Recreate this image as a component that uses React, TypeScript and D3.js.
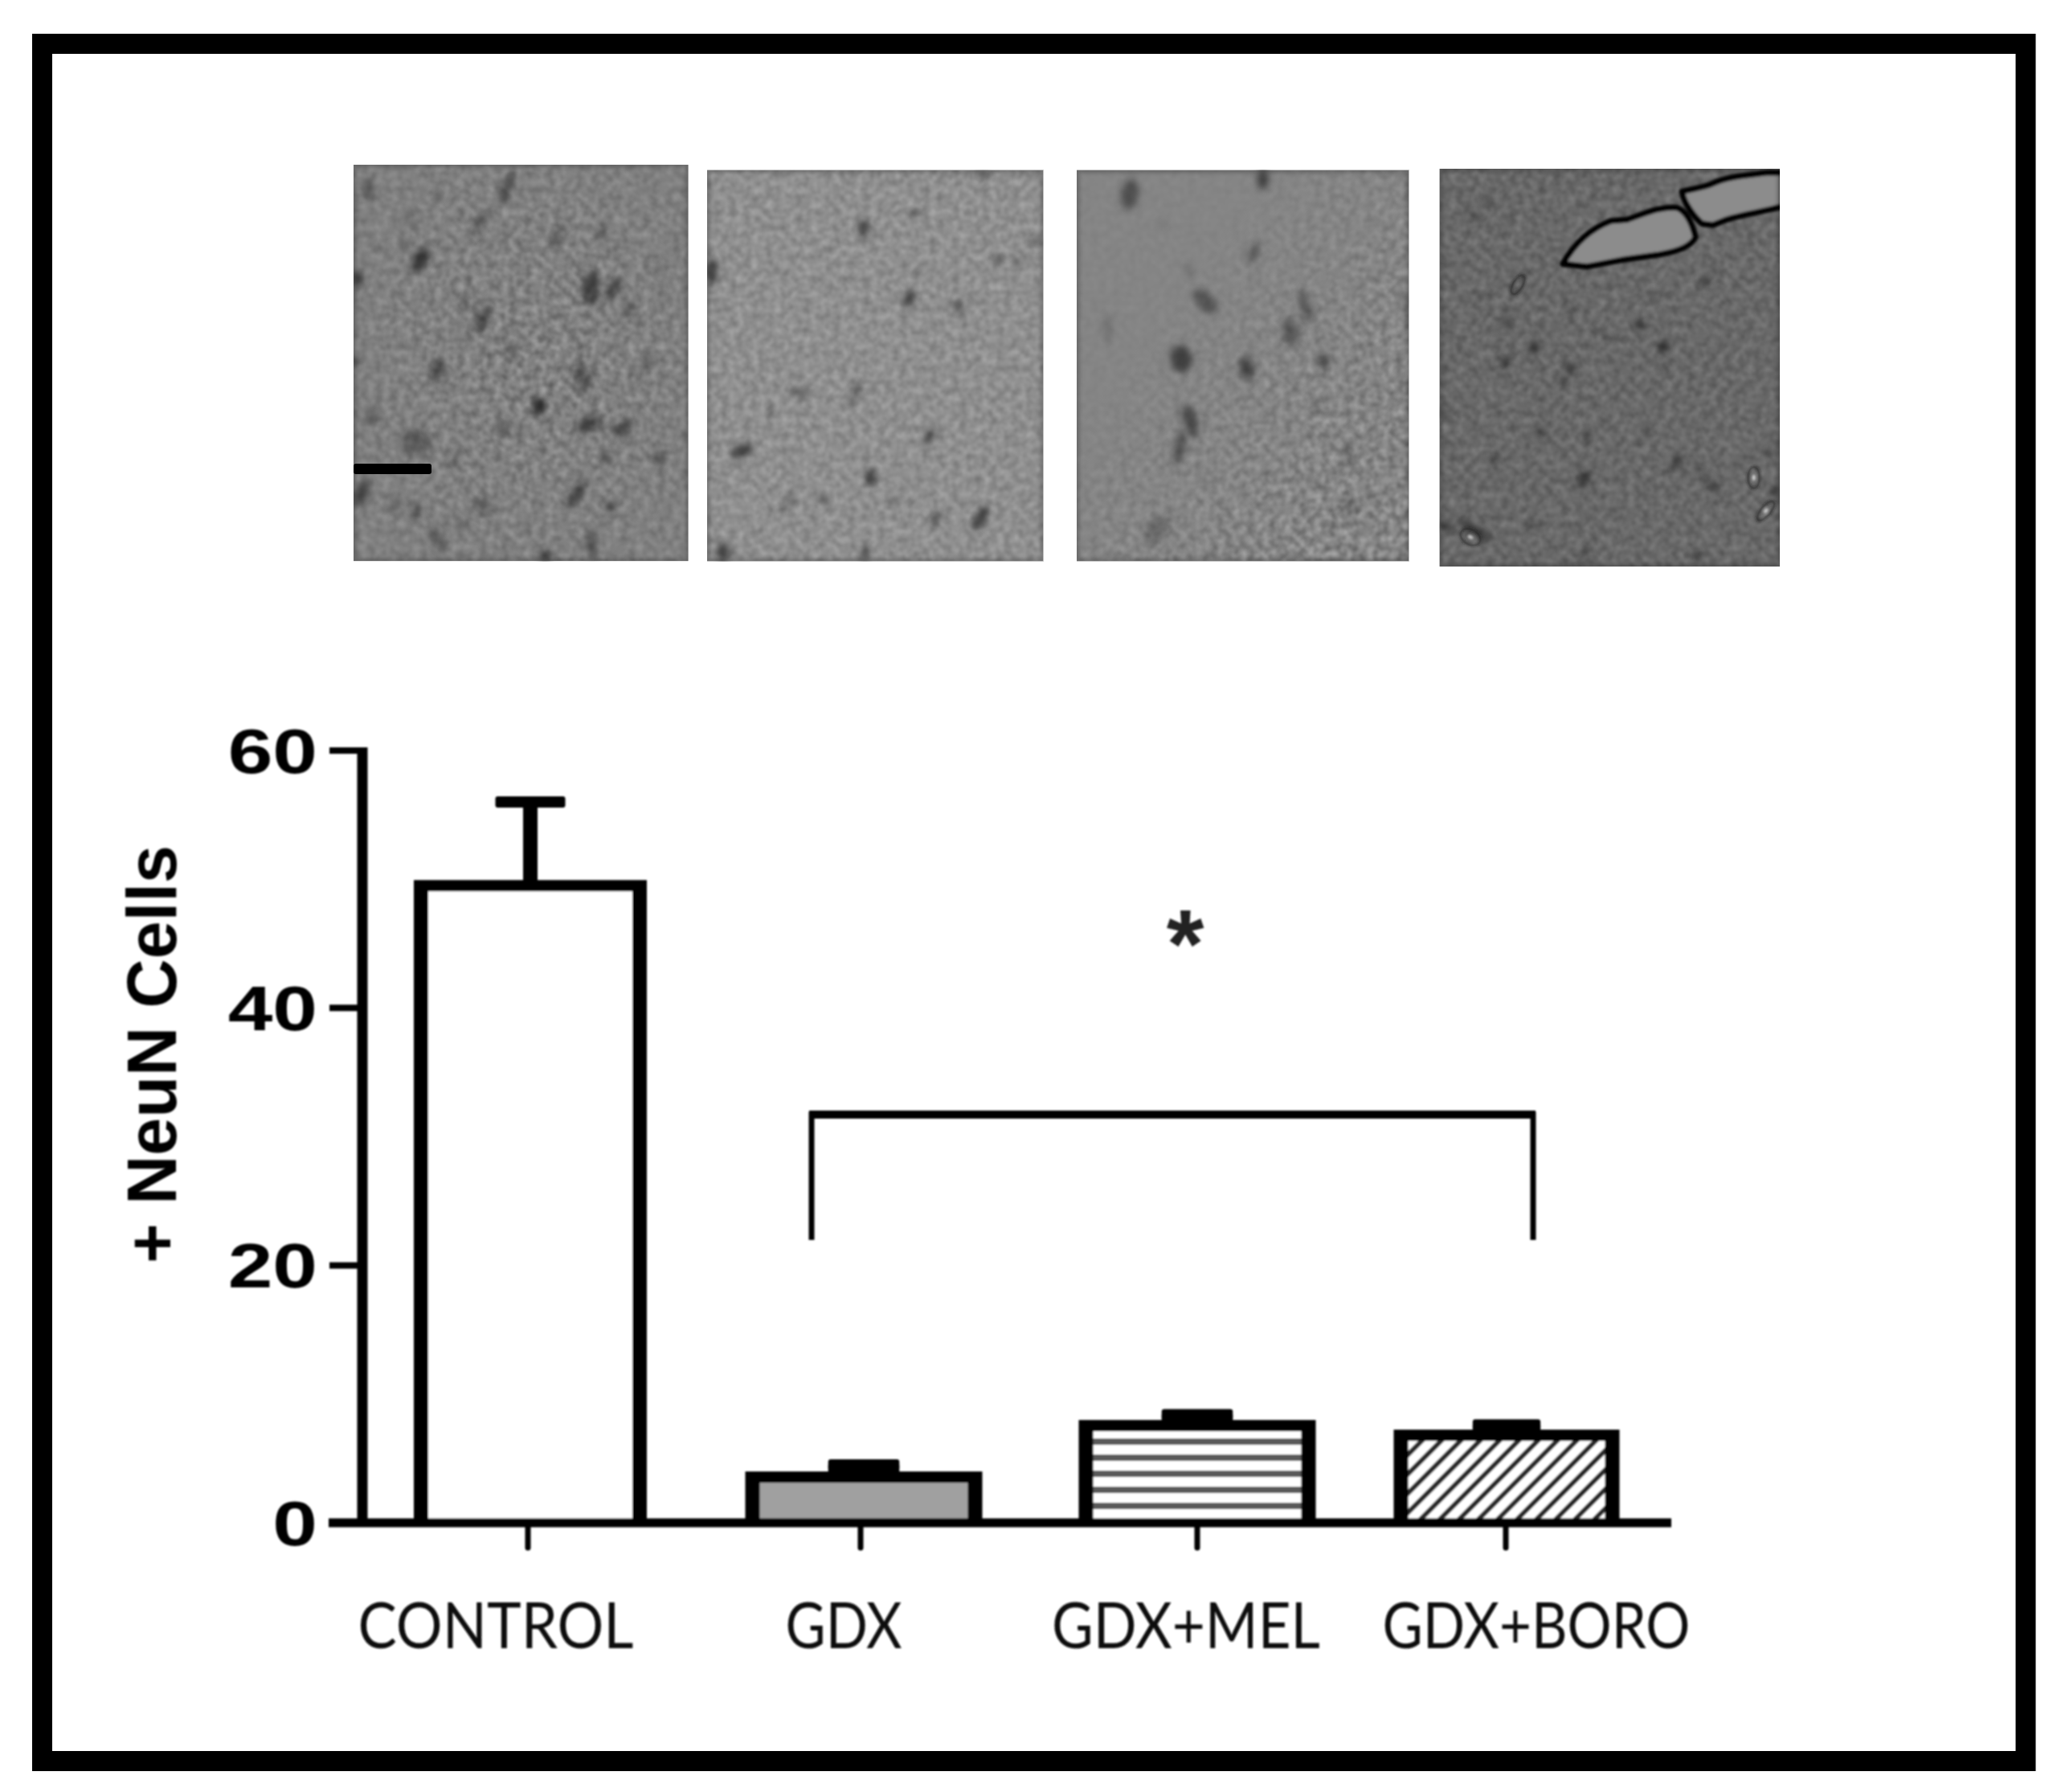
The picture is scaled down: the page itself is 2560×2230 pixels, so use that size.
import React, { useEffect, useRef } from 'react';
import * as d3 from 'd3';

// values
const categories = ['CONTROL', 'GDX', 'GDX+MEL', 'GDX+BORO'];
const means = [49.5, 3.55, 7.55, 6.8];
const upperErrors = [56, 4.5, 8.4, 7.6];
const yTicks = [0, 20, 40, 60];

// dark cell bodies in the micrographs: cx, cy, rx, ry, rotation, opacity (3x crop coords)
const cellsControl = [
  [280, 385, 22, 50, 25, 0.75], [600, 120, 14, 60, 20, 0.6], [500, 250, 14, 55, 25, 0.4], [790, 300, 12, 38, 15, 0.5],
  [45, 455, 15, 30, 0, 0.8], [230, 335, 14, 14, 0, 0.4], [345, 148, 10, 14, 0, 0.6], [105, 335, 10, 10, 0, 0.35],
  [85, 120, 18, 40, 0, 0.4], [240, 230, 16, 35, 0, 0.25], [915, 490, 30, 60, 5, 0.6], [1000, 495, 22, 45, 20, 0.5],
  [1180, 415, 14, 28, 15, 0.3], [960, 285, 14, 40, 20, 0.35], [510, 610, 18, 50, 25, 0.6], [345, 795, 20, 45, 25, 0.55],
  [620, 725, 8, 25, -30, 0.8], [720, 930, 22, 32, 0, 0.85], [905, 1000, 45, 25, -20, 0.6], [1035, 1015, 40, 25, -30, 0.55],
  [885, 825, 30, 55, -10, 0.4], [1125, 770, 25, 40, 0, 0.2], [100, 970, 30, 32, 0, 0.28], [260, 1065, 55, 45, 0, 0.35],
  [590, 1015, 25, 22, 0, 0.45], [410, 1130, 12, 30, 20, 0.4], [60, 1255, 22, 50, 25, 0.6], [185, 1300, 22, 30, 0, 0.25],
  [265, 1325, 14, 30, 15, 0.55], [515, 1305, 38, 35, 0, 0.25], [860, 1265, 18, 55, 35, 0.6], [990, 1305, 18, 18, 0, 0.6],
  [975, 1125, 13, 16, 0, 0.65], [1175, 1125, 22, 35, 25, 0.35], [345, 1430, 16, 50, -30, 0.45], [745, 1490, 20, 16, 0, 0.85],
  [920, 1450, 16, 50, 0, 0.5], [430, 1370, 14, 25, 0, 0.25], [35, 760, 8, 18, 0, 0.8], [1060, 570, 16, 35, 20, 0.4],
  [440, 540, 14, 25, -30, 0.4],
];
const cellsGdx = [
  [615, 268, 16, 35, 0, 0.7], [808, 210, 13, 15, 0, 0.6], [50, 428, 17, 45, 0, 0.75], [785, 530, 18, 30, 0, 0.7],
  [968, 560, 18, 20, 0, 0.6], [1118, 388, 14, 20, 0, 0.5], [1190, 395, 14, 22, 0, 0.3], [810, 445, 8, 28, 20, 0.3],
  [585, 880, 14, 50, 15, 0.35], [380, 880, 35, 18, 20, 0.35], [160, 1100, 38, 22, -20, 0.7], [860, 1045, 14, 30, 20, 0.7],
  [642, 1198, 17, 32, 0, 0.75], [885, 1350, 13, 32, 15, 0.55], [1050, 1350, 18, 48, 30, 0.75], [465, 1278, 14, 18, 0, 0.5],
  [730, 1282, 14, 14, 0, 0.45], [340, 1275, 10, 30, -25, 0.4], [310, 1315, 12, 14, 0, 0.4], [90, 1475, 22, 32, 0, 0.7],
  [620, 1480, 14, 28, 0, 0.6], [1255, 320, 22, 15, 0, 0.35], [1060, 70, 22, 12, 0, 0.55], [270, 955, 10, 20, 20, 0.35],
];
const cellsMel = [
  [228, 140, 30, 55, 10, 0.5], [725, 85, 20, 35, 0, 0.65], [690, 360, 16, 35, 20, 0.45], [350, 255, 12, 14, 0, 0.2],
  [450, 425, 12, 30, -20, 0.2], [510, 540, 28, 55, -45, 0.45], [145, 640, 20, 55, 0, 0.14], [420, 755, 36, 48, -10, 0.65],
  [665, 790, 26, 42, -10, 0.6], [830, 655, 30, 50, -15, 0.4], [885, 560, 18, 65, -20, 0.4], [950, 760, 22, 28, 0, 0.5],
  [455, 985, 24, 60, -20, 0.55], [415, 1085, 18, 65, 10, 0.5], [330, 1395, 35, 55, 35, 0.25], [1050, 1110, 22, 55, 0, 0.2],
  [925, 920, 14, 12, 0, 0.45], [1050, 1300, 30, 40, -25, 0.2], [1250, 540, 10, 14, 0, 0.4],
];
const cellsBoro = [
  [150, 222, 18, 18, 0, 0.4], [205, 172, 18, 16, 0, 0.3], [268, 222, 13, 14, 0, 0.25], [315, 470, 14, 50, 30, 0.3],
  [170, 520, 13, 13, 0, 0.4], [268, 620, 18, 22, 0, 0.45], [372, 712, 17, 18, 0, 0.85], [265, 765, 18, 20, 0, 0.65],
  [507, 788, 16, 18, 0, 0.7], [482, 840, 15, 17, 0, 0.45], [770, 630, 17, 18, 0, 0.7], [855, 708, 16, 20, 0, 0.85],
  [850, 778, 16, 14, 0, 0.4], [1015, 468, 17, 18, 0, 0.55], [640, 660, 8, 30, -25, 0.4], [508, 578, 12, 16, 0, 0.3],
  [395, 1025, 18, 20, 0, 0.5], [572, 1040, 16, 16, 0, 0.45], [222, 1135, 14, 25, 0, 0.45], [558, 1205, 20, 28, 15, 0.7],
  [905, 1145, 12, 38, 40, 0.6], [1010, 1190, 8, 65, -45, 0.4], [1048, 1235, 14, 20, -20, 0.5], [368, 1375, 16, 16, 0, 0.45],
  [150, 1395, 16, 70, -60, 0.55], [45, 1380, 14, 20, 0, 0.75], [563, 1475, 14, 16, 0, 0.6], [975, 1490, 16, 18, 0, 0.45],
  [1255, 1105, 16, 14, 0, 0.6], [1270, 1250, 12, 22, 0, 0.7], [790, 1020, 25, 14, 0, 0.25], [810, 515, 10, 25, 30, 0.25],
  [40, 960, 10, 20, 0, 0.55],
];
// crop origin, panel box in crop coords, base grey, noise strength, noise mask
const panels = [
  { id: 'a', ox: 430, oy: 195, x0: 30, y0: 30, x1: 1280, y1: 1510, grey: 0.5, k: 0.42, seed: 3, mask: 'radialMask', cells: cellsControl },
  { id: 'b', ox: 870, oy: 195, x0: 30, y0: 50, x1: 1285, y1: 1510, grey: 0.56, k: 0.26, seed: 8, mask: 'fullMask', cells: cellsGdx },
  { id: 'c', ox: 1330, oy: 195, x0: 30, y0: 50, x1: 1270, y1: 1510, grey: 0.52, k: 0.42, seed: 14, mask: 'cornerMask', cells: cellsMel },
  { id: 'd', ox: 1785, oy: 195, x0: 20, y0: 45, x1: 1290, y1: 1530, grey: 0.41, k: 0.24, seed: 21, mask: 'fullMask', cells: cellsBoro },
];
const vesselPaths = [
  'M480,400 C520,330 580,270 660,240 L720,235 C780,215 840,185 905,190 C935,200 960,240 975,300 C960,335 900,355 840,365 L700,385 L570,410 Z',
  'M925,130 C960,120 1010,115 1040,100 C1090,75 1160,70 1240,60 L1300,60 L1300,185 C1230,205 1150,215 1090,235 L1040,255 L1000,250 C970,225 930,170 925,130 Z',
];
// cx, cy, rx, ry, rotation, brightness of the centre
const ringCells = [[1193, 1198, 22, 40, 0, 0.9], [1238, 1322, 18, 45, 40, 0.85], [135, 1420, 28, 40, -60, 0.85], [312, 478, 18, 40, 30, 0.25]];

export default function App() {
  const ref = useRef<SVGSVGElement>(null);

  useEffect(() => {
    const svg = d3.select(ref.current);
    svg.selectAll('*').remove();

    const defs = svg.append('defs');
    const stripes = defs.append('pattern').attr('id', 'stripes').attr('patternUnits', 'userSpaceOnUse')
      .attr('width', 40).attr('height', 20).attr('patternTransform', 'translate(0,1790)');
    stripes.append('rect').attr('width', 40).attr('height', 20).attr('fill', '#fff');
    stripes.append('rect').attr('width', 40).attr('height', 8).attr('fill', '#5a5a5a');
    const hatch = defs.append('pattern').attr('id', 'hatch').attr('patternUnits', 'userSpaceOnUse')
      .attr('width', 17).attr('height', 17).attr('patternTransform', 'rotate(45)');
    hatch.append('rect').attr('width', 17).attr('height', 17).attr('fill', '#fff');
    hatch.append('rect').attr('width', 6).attr('height', 17).attr('fill', '#2a2a2a');

    const soft = defs.append('filter').attr('id', 'soft').attr('x', '-30%').attr('y', '-30%').attr('width', '160%').attr('height', '160%');
    soft.append('feGaussianBlur').attr('stdDeviation', 12);
    const vesselSoft = defs.append('filter').attr('id', 'vesselSoft').attr('x', '-10%').attr('y', '-10%').attr('width', '120%').attr('height', '120%');
    vesselSoft.append('feGaussianBlur').attr('stdDeviation', 5);
    const edge = defs.append('filter').attr('id', 'edge').attr('x', '-5%').attr('y', '-5%').attr('width', '110%').attr('height', '110%');
    edge.append('feGaussianBlur').attr('stdDeviation', 6);
    // the source figure is a soft upscale, everything is slightly out of focus
    const focus = defs.append('filter').attr('id', 'focus').attr('filterUnits', 'userSpaceOnUse')
      .attr('x', 0).attr('y', 0).attr('width', 2560).attr('height', 2230);
    focus.append('feGaussianBlur').attr('stdDeviation', 1.1);
    // masks for where the speckle shows
    const g1 = defs.append('radialGradient').attr('id', 'gradRadial').attr('cx', 0.55).attr('cy', 0.5).attr('r', 0.6);
    g1.append('stop').attr('offset', 0).attr('stop-color', '#fff');
    g1.append('stop').attr('offset', 1).attr('stop-color', '#777');
    const g2 = defs.append('linearGradient').attr('id', 'gradCorner').attr('x1', 0.1).attr('y1', 0.2).attr('x2', 0.95).attr('y2', 0.95);
    g2.append('stop').attr('offset', 0.2).attr('stop-color', '#222');
    g2.append('stop').attr('offset', 0.85).attr('stop-color', '#fff');
    [['radialMask', 'url(#gradRadial)'], ['cornerMask', 'url(#gradCorner)'], ['fullMask', '#fff']].forEach(([id, fill]) => {
      defs.append('mask').attr('id', id).attr('maskContentUnits', 'objectBoundingBox')
        .append('rect').attr('width', 1).attr('height', 1).attr('fill', fill);
    });

    svg.append('rect').attr('width', 2560).attr('height', 2230).attr('fill', '#fff');

    // frame
    svg.append('rect').attr('x', 52.5).attr('y', 54.5).attr('width', 2468.5).attr('height', 2137)
      .attr('fill', 'none').attr('stroke', '#000').attr('stroke-width', 25);

    // micrographs
    panels.forEach((p) => {
      const noise = defs.append('filter').attr('id', `noise-${p.id}`).attr('x', 0).attr('y', 0).attr('width', 1).attr('height', 1)
        .attr('color-interpolation-filters', 'sRGB');
      noise.append('feTurbulence').attr('type', 'fractalNoise').attr('baseFrequency', 0.036).attr('numOctaves', 2).attr('seed', p.seed);
      const c = p.grey - p.k / 2;
      noise.append('feColorMatrix').attr('type', 'matrix')
        .attr('values', `${p.k} 0 0 0 ${c} ${p.k} 0 0 0 ${c} ${p.k} 0 0 0 ${c} 0 0 0 0 1`);
      noise.append('feGaussianBlur').attr('stdDeviation', 4);

      defs.append('clipPath').attr('id', `clip-${p.id}`).append('rect')
        .attr('x', p.x0).attr('y', p.y0).attr('width', p.x1 - p.x0).attr('height', p.y1 - p.y0);

      const g = svg.append('g').attr('transform', `translate(${p.ox},${p.oy}) scale(${1 / 3})`);
      const inner = g.append('g').attr('clip-path', `url(#clip-${p.id})`);
      const box = (sel: any) => sel.attr('x', p.x0).attr('y', p.y0).attr('width', p.x1 - p.x0).attr('height', p.y1 - p.y0);
      const grey = Math.round(p.grey * 255);
      box(inner.append('rect')).attr('fill', `rgb(${grey},${grey},${grey})`);
      box(inner.append('g').attr('mask', `url(#${p.mask})`).append('rect')).attr('filter', `url(#noise-${p.id})`);

      inner.append('g').attr('filter', 'url(#soft)').selectAll('ellipse').data(p.cells).join('ellipse')
        .attr('cx', (d: number[]) => d[0]).attr('cy', (d: number[]) => d[1])
        .attr('rx', (d: number[]) => d[2] * 1.1).attr('ry', (d: number[]) => d[3] * 1.05)
        .attr('transform', (d: number[]) => `rotate(${d[4]},${d[0]},${d[1]})`)
        .attr('fill', '#000').attr('opacity', (d: number[]) => d[5] * 0.8);

      if (p.id === 'd') {
        const v = inner.append('g').attr('filter', 'url(#vesselSoft)');
        v.selectAll('path').data(vesselPaths).join('path').attr('d', (d: string) => d)
          .attr('fill', '#8c8c8c').attr('stroke', '#000').attr('stroke-width', 22).attr('stroke-linejoin', 'round');
        const rings = inner.append('g').attr('filter', 'url(#vesselSoft)').selectAll('g').data(ringCells).join('g')
          .attr('transform', (d: number[]) => `rotate(${d[4]},${d[0]},${d[1]})`);
        rings.append('ellipse').attr('cx', (d: number[]) => d[0]).attr('cy', (d: number[]) => d[1])
          .attr('rx', (d: number[]) => d[2]).attr('ry', (d: number[]) => d[3])
          .attr('fill', 'none').attr('stroke', '#1a1a1a').attr('stroke-opacity', 0.65).attr('stroke-width', 8);
        rings.append('ellipse').attr('cx', (d: number[]) => d[0]).attr('cy', (d: number[]) => d[1])
          .attr('rx', 7).attr('ry', 11).attr('fill', '#d8d8d8').attr('opacity', (d: number[]) => d[5]);
      }

      box(inner.append('rect')).attr('fill', 'none').attr('stroke', '#000').attr('stroke-opacity', 0.2)
        .attr('stroke-width', 22).attr('filter', 'url(#edge)');
    });

    // scale bar, inside the first micrograph
    svg.append('rect').attr('x', 440).attr('y', 577).attr('width', 97).attr('height', 13).attr('rx', 3).attr('fill', '#000');

    const chart = svg.append('g').attr('filter', 'url(#focus)');

    // chart scales, the groups are not evenly spaced in the picture
    const y = d3.scaleLinear().domain([0, 60]).range([1895, 934]);
    const barX = d3.scaleOrdinal<string, number>().domain(categories).range([660, 1075, 1490, 1875]);
    const barWidth = d3.scaleOrdinal<string, number>().domain(categories).range([290, 295, 295, 281]);
    const tickX = d3.scaleOrdinal<string, number>().domain(categories).range([657, 1071, 1490, 1874]);
    const labelX = d3.scaleOrdinal<string, number>().domain(categories).range([617, 1050, 1476, 1912]);
    const labelWidth = d3.scaleOrdinal<string, number>().domain(categories).range([343, 145, 334, 383]);
    const barFill = d3.scaleOrdinal<string, string>().domain(categories).range(['#fff', '#a0a0a0', 'url(#stripes)', 'url(#hatch)']);

    const rows = categories.map((name, i) => ({ name, mean: means[i], upper: upperErrors[i] }));
    const bars = chart.append('g').selectAll('g').data(rows).join('g');
    const side = 18;
    const topHalf = 7;
    const capWidth = (d: any) => barWidth(d.name) * 0.3;
    // short error bars are a solid block in the picture, the stem fills the cap
    const stemWidth = (d: any) => (d.upper - d.mean < 3 ? capWidth(d) : side);

    bars.append('rect').attr('x', (d) => barX(d.name) - stemWidth(d) / 2).attr('y', (d) => y(d.upper))
      .attr('width', stemWidth).attr('height', (d) => y(d.mean) - y(d.upper)).attr('fill', '#000');
    bars.append('rect').attr('x', (d) => barX(d.name) - capWidth(d) / 2).attr('y', (d) => y(d.upper) - topHalf)
      .attr('width', capWidth).attr('height', topHalf * 2).attr('rx', 3).attr('fill', '#000');
    // bar outline, sides are heavier than the top
    bars.append('rect').attr('x', (d) => barX(d.name) - barWidth(d.name) / 2).attr('y', (d) => y(d.mean) - topHalf)
      .attr('width', (d) => barWidth(d.name)).attr('height', (d) => y(0) - y(d.mean) + topHalf).attr('fill', '#000');
    bars.append('rect').attr('x', (d) => barX(d.name) - barWidth(d.name) / 2 + side).attr('y', (d) => y(d.mean) + topHalf)
      .attr('width', (d) => barWidth(d.name) - side * 2).attr('height', (d) => y(0) - y(d.mean) - topHalf)
      .attr('fill', (d) => barFill(d.name));

    // y axis
    const yAxis = chart.append('g').attr('transform', 'translate(451,0)')
      .call(d3.axisLeft(y).tickValues(yTicks).tickSize(41).tickSizeOuter(0).tickPadding(0).offset(0));
    yAxis.select('.domain').attr('stroke', '#000').attr('stroke-width', 13).attr('d', `M0,${y(60) - 4}V${y(0)}`);
    yAxis.selectAll('.tick line').attr('stroke', '#000').attr('stroke-width', 8);
    yAxis.selectAll('.tick text')
      .attr('x', 0).attr('dy', '0.36em').attr('fill', '#000').attr('text-anchor', 'end')
      .attr('font-family', '"Liberation Sans", Arial, sans-serif').attr('font-weight', 700).attr('font-size', 77)
      .attr('transform', 'translate(-56,0) scale(1.3,1)');

    // x axis: baseline, ticks, then labels shifted as in the picture
    chart.append('line').attr('x1', 409).attr('x2', 2080).attr('y1', y(0)).attr('y2', y(0)).attr('stroke', '#000').attr('stroke-width', 11);
    const xTicks = chart.append('g').attr('transform', `translate(0,${y(0)})`)
      .call(d3.axisBottom(tickX).tickSize(31).tickFormat(() => '').offset(0));
    xTicks.select('.domain').remove();
    xTicks.selectAll('.tick line').attr('stroke', '#000').attr('stroke-width', 7).attr('stroke-linecap', 'round');

    const xLabels = chart.append('g').attr('transform', 'translate(0,1993)')
      .call(d3.axisBottom(labelX).tickSize(0).tickPadding(0).offset(0));
    xLabels.select('.domain').remove();
    xLabels.selectAll('.tick text')
      .attr('y', 58).attr('dy', 0).attr('fill', '#111').attr('text-anchor', 'middle')
      .attr('font-family', 'Lato, "Noto Sans", sans-serif').attr('font-size', 80)
      .attr('textLength', (d: any) => labelWidth(d)).attr('lengthAdjust', 'spacingAndGlyphs');

    // y title
    chart.append('text').attr('transform', 'translate(219,1312) rotate(-90)').attr('text-anchor', 'middle')
      .attr('font-family', '"Liberation Sans", Arial, sans-serif').attr('font-weight', 700).attr('font-size', 88)
      .attr('textLength', 520).attr('lengthAdjust', 'spacingAndGlyphs').attr('fill', '#000').text('+ NeuN Cells');

    // significance bracket
    chart.append('path').attr('d', 'M1010,1543V1387H1908V1543').attr('fill', 'none').attr('stroke', '#000').attr('stroke-width', 7);
    chart.append('line').attr('x1', 1007).attr('x2', 1911).attr('y1', 1387).attr('y2', 1387).attr('stroke', '#000').attr('stroke-width', 10);
    chart.append('text').attr('x', 1475).attr('y', 1216).attr('text-anchor', 'middle')
      .attr('font-family', '"Liberation Sans", Arial, sans-serif').attr('font-weight', 700).attr('font-size', 120)
      .attr('fill', '#222').text('*');
  }, []);

  return <svg ref={ref} width={2560} height={2230} style={{ position: 'absolute', left: 0, top: 0 }} />;
}
